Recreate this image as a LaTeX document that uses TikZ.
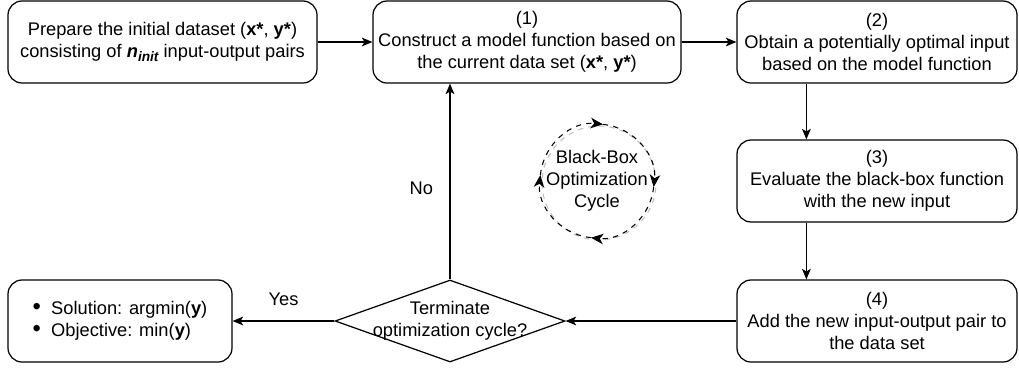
\documentclass[tikz,border=0pt]{standalone}
\usepackage{fontspec}
\setmainfont{Liberation Sans}
\usepackage{tikz}
\usetikzlibrary{arrows,arrows.meta,positioning,shapes.geometric}
\newcommand{\bigdot}{\raisebox{0pt}[0pt][0pt]{\scalebox{1.3}{\textbullet}}}

\begin{document}
\begin{tikzpicture}[>={Stealth[length=6pt,width=5pt,inset=1.5pt]}]
	\tikzstyle{stepbox} = [shape=rectangle, draw=black, line width=0.7pt, rounded corners=8, minimum height=1.64cm, align=center, inner sep=0, font=\fontsize{10.4}{12.6}\selectfont]
	\tikzstyle{decision} = [diamond, aspect=2.8, draw=black, line width=0.7pt, minimum width=4.6cm, minimum height=1.64cm, align=center, inner sep=-5pt, font=\fontsize{10.4}{12.6}\selectfont]
	\tikzstyle{flow} = [->, black, line width=0.7pt]
	\tikzstyle{cyc} = [dashed, line width=0.6pt]
	\useasboundingbox (0,0) rectangle (20.38,-7.38);

	\node [stepbox, minimum width=6.18cm] (prep) at (3.25,-0.84) {Prepare the initial dataset (\textbf{x*}, \textbf{y*})\\consisting of \textbf{\textit{n}}\raisebox{-0.45ex}{\fontsize{7.8}{7.8}\selectfont\bfseries\itshape init} input-output pairs};
	\node [stepbox, minimum width=6.16cm] (s1) at (10.54,-0.84) {(1)\\Construct a model function based on\\the current data set (\textbf{x*}, \textbf{y*})};
	\node [stepbox, minimum width=5.6cm] (s2) at (17.54,-0.84) {(2)\\Obtain a potentially optimal input\\based on the model function};
	\node [stepbox, minimum width=5.6cm] (s3) at (17.54,-3.62) {(3)\\Evaluate the black-box function\\with the new input};
	\node [stepbox, minimum width=5.6cm] (s4) at (17.54,-6.42) {(4)\\Add the new input-output pair to\\the data set};
	\node [decision] (term) at (9.0,-6.42) {Terminate\\optimization cycle?};
	\node [stepbox, minimum width=4.48cm, align=left] (res) at (2.4,-6.42) {\bigdot\ \ Solution: argmin(\textbf{y})\\\bigdot\ \ Objective: min(\textbf{y})};

	\draw [flow] (prep) -- (s1);
	\draw [flow] (s1) -- (s2);
	\draw [flow] ([xshift=1.4cm]s2.south west) -- ([xshift=1.4cm]s3.north west);
	\draw [flow] ([xshift=1.4cm]s3.south west) -- ([xshift=1.4cm]s4.north west);
	\draw [flow] (s4) -- (term);
	\draw [flow] (term) -- node[midway,above=5pt,font=\fontsize{10.4}{12.6}\selectfont]{Yes} (res);
	\draw [flow] (term.north) -- node[midway,left=6pt,yshift=-4pt,font=\fontsize{10.4}{12.6}\selectfont]{No} (term.north |- s1.south);

	% cycle symbol
	\node [align=center, inner sep=0, font=\fontsize{10.4}{12.6}\selectfont] (cyc) at (11.94,-3.62) {Black-Box\\Optimization\\Cycle};
	\draw [cyc, black!25] ([shift={(0.04,-0.04)}]cyc.center) circle (1.14);
	\draw [cyc, -{Stealth[length=7pt,width=6pt,inset=2pt]}] ([shift={(174:1.14)}]cyc.center) arc (174:84:1.14);
	\draw [cyc, -{Stealth[length=7pt,width=6pt,inset=2pt]}] ([shift={(84:1.14)}]cyc.center) arc (84:-6:1.14);
	\draw [cyc, -{Stealth[length=7pt,width=6pt,inset=2pt]}] ([shift={(-6:1.14)}]cyc.center) arc (-6:-96:1.14);
	\draw [cyc, -{Stealth[length=7pt,width=6pt,inset=2pt]}] ([shift={(-96:1.14)}]cyc.center) arc (-96:-186:1.14);
\end{tikzpicture}
\end{document}
